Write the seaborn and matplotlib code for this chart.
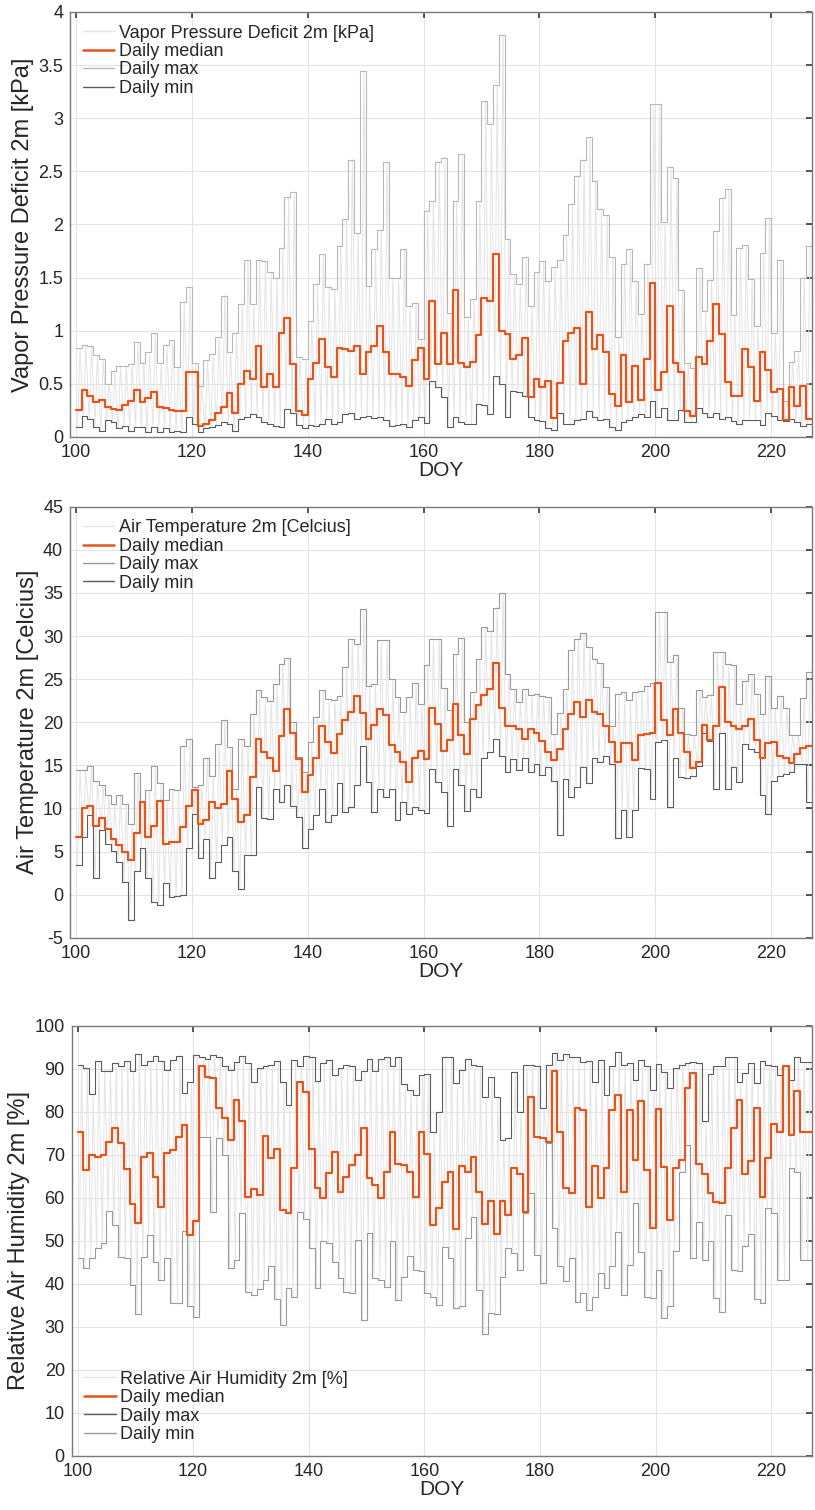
import numpy as np
import pandas as pd
import matplotlib
matplotlib.use("Agg")
import matplotlib.pyplot as plt
import seaborn as sns
from matplotlib.ticker import FuncFormatter
from matplotlib.lines import Line2D

# Day of year for each daily value (stairs hold until the next day)
doy = np.arange(100, 227)

# Vapor pressure deficit 2m [kPa]
vpd_med = [0.25, 0.44, 0.39, 0.33, 0.35, 0.28, 0.26, 0.25, 0.30, 0.34,
           0.44, 0.33, 0.37, 0.42, 0.28, 0.27, 0.25, 0.24, 0.24, 0.61,
           0.61, 0.10, 0.12, 0.16, 0.23, 0.28, 0.41, 0.23, 0.50, 0.62,
           0.55, 0.86, 0.47, 0.59, 0.47, 0.98, 1.12, 0.69, 0.24, 0.21,
           0.55, 0.70, 0.92, 0.66, 0.56, 0.84, 0.83, 0.81, 0.86, 0.59,
           0.80, 0.86, 1.04, 0.80, 0.59, 0.59, 0.56, 0.48, 0.72, 0.84,
           0.55, 1.28, 0.69, 0.98, 0.69, 1.38, 0.70, 0.66, 0.71, 0.96,
           1.31, 1.28, 1.72, 1.00, 0.97, 0.73, 0.77, 0.93, 0.38, 0.55,
           0.47, 0.53, 0.18, 0.51, 0.90, 0.98, 1.03, 0.50, 1.18, 0.83,
           0.96, 0.80, 0.40, 0.29, 0.77, 0.33, 0.67, 0.35, 0.73, 1.45,
           0.44, 0.61, 1.23, 0.70, 0.61, 0.24, 0.20, 0.75, 0.69, 0.90,
           1.25, 0.97, 0.52, 0.39, 0.39, 0.83, 0.66, 0.34, 0.80, 0.63,
           0.42, 0.45, 0.16, 0.47, 0.29, 0.48, 0.17]
vpd_max = [0.84, 0.87, 0.86, 0.77, 0.73, 0.50, 0.62, 0.67, 0.67, 0.69,
           0.89, 0.70, 0.80, 0.98, 0.70, 0.87, 0.91, 0.66, 1.27, 1.41,
           0.70, 0.48, 0.72, 0.78, 0.94, 1.33, 0.80, 0.98, 1.25, 1.67,
           1.25, 1.67, 1.66, 1.55, 1.50, 1.78, 2.26, 2.31, 0.75, 0.73,
           1.09, 1.44, 1.72, 1.41, 1.39, 1.80, 2.05, 2.61, 1.92, 3.44,
           1.42, 1.77, 1.95, 2.59, 1.50, 1.50, 1.77, 1.23, 1.26, 0.92,
           2.13, 2.22, 2.59, 2.63, 1.17, 2.22, 2.66, 1.13, 1.30, 2.22,
           3.16, 2.95, 3.31, 3.78, 1.86, 1.53, 1.44, 1.69, 1.23, 1.55,
           1.66, 1.47, 1.60, 1.67, 1.90, 2.19, 2.46, 2.61, 2.82, 2.41,
           2.15, 2.09, 1.69, 0.94, 1.63, 1.77, 1.47, 1.16, 1.63, 3.13,
           3.13, 2.02, 2.54, 2.44, 1.38, 0.70, 0.65, 1.59, 1.19, 1.48,
           1.94, 2.25, 2.33, 1.15, 1.78, 1.81, 1.49, 1.04, 1.73, 2.06,
           0.98, 1.67, 0.34, 0.71, 0.81, 1.50, 1.80]
vpd_min = [0.09, 0.20, 0.17, 0.09, 0.06, 0.16, 0.14, 0.08, 0.10, 0.06,
           0.09, 0.09, 0.05, 0.09, 0.05, 0.08, 0.05, 0.06, 0.05, 0.19,
           0.12, 0.05, 0.08, 0.09, 0.11, 0.14, 0.12, 0.06, 0.17, 0.19,
           0.22, 0.19, 0.14, 0.12, 0.10, 0.09, 0.26, 0.23, 0.11, 0.08,
           0.11, 0.10, 0.12, 0.17, 0.12, 0.14, 0.22, 0.23, 0.17, 0.19,
           0.20, 0.18, 0.19, 0.16, 0.10, 0.11, 0.12, 0.09, 0.16, 0.19,
           0.13, 0.53, 0.47, 0.38, 0.09, 0.19, 0.14, 0.12, 0.12, 0.31,
           0.30, 0.22, 0.57, 0.50, 0.19, 0.43, 0.42, 0.39, 0.19, 0.16,
           0.15, 0.08, 0.07, 0.23, 0.12, 0.12, 0.16, 0.17, 0.24, 0.19,
           0.16, 0.17, 0.09, 0.07, 0.14, 0.16, 0.19, 0.22, 0.19, 0.34,
           0.19, 0.27, 0.16, 0.16, 0.25, 0.14, 0.14, 0.27, 0.23, 0.19,
           0.23, 0.17, 0.19, 0.15, 0.12, 0.16, 0.16, 0.16, 0.11, 0.23,
           0.20, 0.16, 0.15, 0.17, 0.14, 0.10, 0.12]

# Air temperature 2m [Celcius]
ta_med = [6.7, 10.0, 10.3, 8.0, 8.9, 7.6, 6.5, 5.8, 5.0, 4.0,
          7.1, 10.7, 6.7, 8.0, 10.9, 5.9, 6.1, 6.1, 7.9, 10.3,
          12.1, 8.2, 8.6, 10.7, 10.0, 10.5, 14.3, 11.1, 8.4, 9.2,
          13.6, 18.1, 16.5, 15.8, 14.3, 18.4, 21.5, 18.8, 15.7, 11.9,
          13.9, 15.9, 19.6, 17.7, 16.4, 18.6, 20.3, 21.2, 23.1, 21.1,
          18.1, 19.7, 21.5, 20.8, 17.4, 16.6, 15.4, 13.1, 15.8, 16.7,
          15.7, 21.7, 19.8, 16.7, 17.9, 22.1, 18.5, 16.3, 20.4, 22.0,
          23.2, 23.9, 26.9, 21.7, 19.6, 19.6, 19.2, 18.1, 19.2, 18.8,
          17.8, 16.6, 15.6, 16.9, 19.2, 21.0, 22.3, 20.6, 22.6, 21.2,
          21.0, 19.6, 17.7, 15.4, 17.6, 17.6, 15.6, 18.5, 18.6, 18.8,
          24.6, 20.3, 18.5, 21.5, 18.8, 16.5, 14.7, 15.4, 19.7, 17.9,
          19.6, 24.1, 20.0, 19.6, 19.2, 19.6, 20.4, 17.9, 15.8, 17.6,
          17.7, 16.1, 15.9, 15.3, 16.3, 17.0, 17.2]
ta_max = [14.5, 14.5, 14.9, 13.2, 12.7, 11.5, 10.5, 11.6, 10.5, 8.2,
          14.1, 10.7, 12.1, 14.9, 13.0, 11.0, 12.2, 12.1, 17.2, 18.0,
          12.5, 12.7, 15.9, 13.8, 17.5, 20.3, 17.1, 12.2, 18.0, 17.3,
          21.0, 23.7, 22.9, 22.5, 24.4, 26.8, 27.4, 20.0, 16.0, 14.2,
          17.7, 20.6, 23.7, 22.7, 22.6, 23.1, 26.4, 29.6, 29.1, 33.1,
          24.2, 24.4, 29.5, 29.5, 25.0, 22.9, 21.2, 22.9, 24.6, 22.1,
          26.6, 29.7, 29.7, 24.0, 21.4, 27.9, 29.8, 20.0, 23.5, 27.3,
          31.1, 30.6, 33.3, 35.0, 25.6, 23.8, 22.3, 23.9, 23.2, 23.3,
          23.1, 22.9, 18.6, 21.1, 23.9, 28.4, 29.7, 30.3, 28.7, 27.3,
          26.9, 24.1, 19.6, 23.3, 23.5, 22.6, 23.5, 23.6, 24.2, 24.6,
          32.8, 32.8, 27.0, 27.8, 21.7, 18.6, 18.5, 23.7, 22.9, 23.2,
          28.1, 28.1, 26.8, 26.6, 22.1, 24.8, 25.6, 23.3, 21.0, 25.4,
          21.7, 23.0, 21.7, 18.5, 18.5, 22.8, 25.8]
ta_min = [3.4, 6.7, 9.2, 1.9, 7.5, 5.9, 5.1, 3.8, 1.5, -3.0,
          2.7, 5.4, 1.9, -0.8, -1.2, 1.3, -0.3, -0.2, -0.1, 5.4,
          9.3, 4.2, 6.5, 1.9, 3.8, 5.7, 6.7, 2.7, 0.7, 4.6,
          4.6, 12.5, 8.9, 8.8, 12.3, 10.7, 12.7, 10.3, 9.0, 5.4,
          7.6, 9.2, 12.3, 8.4, 9.2, 12.9, 9.6, 10.2, 12.7, 17.2,
          13.1, 9.6, 12.3, 11.3, 12.3, 8.6, 10.7, 9.4, 10.2, 9.8,
          9.5, 14.6, 13.1, 11.9, 8.0, 14.6, 12.7, 9.7, 12.3, 11.3,
          15.8, 16.5, 18.1, 16.1, 14.2, 15.7, 14.4, 15.9, 14.2, 15.1,
          13.9, 14.8, 13.2, 6.9, 13.4, 11.3, 12.5, 14.8, 13.0, 15.8,
          15.4, 16.1, 15.2, 6.6, 9.8, 6.7, 9.8, 14.7, 14.6, 11.1,
          17.7, 17.9, 10.2, 15.8, 13.6, 13.5, 13.8, 14.9, 18.8, 17.8,
          12.3, 18.8, 12.2, 14.8, 13.1, 17.5, 16.9, 16.5, 11.5, 9.4,
          13.2, 13.8, 14.0, 14.2, 15.2, 15.1, 10.7]

# Relative air humidity 2m [%]
rh_med = [75.2, 66.4, 69.9, 69.5, 69.9, 73.0, 76.1, 72.6, 66.7, 58.4,
          54.0, 69.5, 70.3, 64.9, 57.9, 70.3, 71.1, 74.2, 76.9, 51.3,
          54.6, 90.5, 88.1, 87.8, 80.8, 78.4, 73.4, 82.7, 77.7, 60.2,
          62.0, 60.6, 74.4, 69.1, 71.3, 57.1, 56.4, 67.0, 86.8, 84.5,
          71.3, 62.2, 60.0, 65.7, 70.7, 61.4, 64.7, 67.6, 69.9, 76.1,
          64.5, 62.9, 59.8, 66.0, 75.3, 67.8, 67.6, 66.0, 60.2, 75.3,
          70.1, 53.6, 57.5, 63.6, 66.0, 52.7, 67.4, 66.0, 69.5, 61.4,
          53.8, 59.2, 51.5, 59.2, 56.0, 67.0, 65.4, 56.7, 83.3, 74.2,
          73.8, 73.0, 89.5, 75.3, 62.3, 61.0, 80.8, 80.4, 57.9, 67.4,
          59.8, 66.8, 80.4, 83.9, 61.4, 80.4, 68.8, 82.5, 66.4, 53.0,
          80.6, 67.2, 54.8, 66.8, 68.8, 85.6, 88.9, 67.8, 65.4, 61.0,
          58.9, 58.7, 66.8, 76.3, 82.7, 65.4, 68.4, 80.8, 60.2, 69.3,
          77.1, 75.3, 90.5, 74.6, 84.7, 75.2, 75.2]
rh_max = [90.9, 90.1, 84.0, 91.8, 89.5, 89.5, 91.2, 90.5, 91.8, 89.5,
          93.3, 90.9, 91.8, 93.0, 91.8, 89.7, 92.0, 93.0, 84.3, 86.8,
          93.2, 92.8, 92.2, 93.2, 92.8, 90.5, 89.7, 91.5, 92.9, 91.2,
          86.8, 90.2, 90.7, 90.9, 91.8, 86.8, 81.6, 92.0, 90.5, 93.0,
          92.8, 87.0, 91.2, 92.0, 88.5, 90.1, 90.9, 90.7, 87.4, 89.5,
          92.2, 89.5, 92.2, 92.8, 90.5, 92.8, 86.4, 85.0, 83.9, 88.5,
          88.7, 75.3, 80.0, 92.8, 92.8, 86.6, 89.7, 92.2, 90.9, 90.5,
          83.5, 88.1, 83.5, 73.4, 73.9, 89.3, 80.0, 90.9, 90.9, 90.5,
          80.9, 90.9, 93.6, 92.0, 93.3, 92.6, 92.6, 91.6, 91.8, 86.8,
          92.0, 83.9, 90.5, 93.8, 90.9, 91.2, 87.4, 92.0, 90.5, 85.0,
          91.0, 89.3, 85.4, 90.1, 90.9, 91.2, 91.5, 91.2, 77.7, 88.7,
          90.5, 90.5, 92.6, 92.7, 86.8, 88.9, 91.2, 86.6, 91.8, 90.9,
          90.7, 88.5, 90.7, 87.4, 92.8, 91.6, 91.6]
rh_min = [45.9, 43.6, 45.9, 48.2, 49.4, 56.9, 53.6, 46.3, 45.9, 39.7,
          32.9, 46.3, 51.3, 45.1, 40.9, 45.9, 35.4, 35.4, 52.2, 34.7,
          32.3, 74.0, 74.2, 56.6, 73.8, 70.0, 43.6, 45.5, 56.4, 38.1,
          37.4, 38.8, 40.9, 44.0, 36.4, 30.4, 38.9, 37.0, 56.7, 55.0,
          48.2, 38.9, 49.8, 49.4, 45.1, 41.2, 38.0, 37.8, 50.2, 31.6,
          51.7, 41.2, 40.9, 39.1, 49.9, 36.2, 41.6, 46.5, 43.2, 43.0,
          37.8, 37.0, 35.0, 48.6, 45.9, 34.3, 34.7, 50.5, 55.6, 38.5,
          28.4, 33.1, 32.9, 41.6, 48.2, 47.1, 43.2, 56.4, 61.0, 46.7,
          40.1, 72.6, 52.9, 44.0, 40.5, 45.9, 35.8, 37.8, 33.9, 37.0,
          42.4, 38.9, 44.0, 52.1, 37.4, 44.3, 58.7, 47.4, 37.0, 36.6,
          43.2, 32.1, 34.7, 47.6, 66.0, 72.2, 45.9, 54.4, 45.5, 49.9,
          36.6, 33.5, 56.0, 43.2, 43.0, 48.8, 51.5, 36.4, 35.4, 57.5,
          56.4, 40.9, 40.9, 66.8, 66.0, 45.5, 45.5]

ORANGE = '#e2561d'
RAW = '#e4e4e4'
LIGHT = '#b8b8b8'
MID = '#9a9a9a'
DARK = '#5c5c5c'

sns.set_theme(style="whitegrid")
plt.rcParams['font.family'] = ['Liberation Sans', 'DejaVu Sans']


def stairs(values):
    # hold each daily value until the start of the next day
    x = np.append(doy, doy[-1] + 1)
    y = np.append(values, values[-1])
    return pd.DataFrame({'DOY': x, 'value': y})


def raw_trace(lo, hi):
    # sub-daily trace swinging between the daily extremes
    x = np.column_stack([doy + 0.3, doy + 0.7]).ravel()
    y = np.column_stack([lo, hi]).ravel()
    return pd.DataFrame({'DOY': x, 'value': y})


def draw_panel(ax, med, vmax, vmin, raw_label, ylabel, ylim, yticks,
               max_color, min_color, legend_loc):
    sns.lineplot(data=raw_trace(vmin, vmax), x='DOY', y='value', ax=ax,
                 color=RAW, lw=0.7, sort=False, estimator=None)
    sns.lineplot(data=stairs(vmax), x='DOY', y='value', ax=ax,
                 color=max_color, lw=0.8, drawstyle='steps-post', estimator=None)
    sns.lineplot(data=stairs(vmin), x='DOY', y='value', ax=ax,
                 color=min_color, lw=0.8, drawstyle='steps-post', estimator=None)
    sns.lineplot(data=stairs(med), x='DOY', y='value', ax=ax,
                 color=ORANGE, lw=1.6, drawstyle='steps-post', estimator=None)

    ax.set_xlim(99, 227)
    ax.set_ylim(*ylim)
    ax.set_xticks(np.arange(100, 221, 20))
    ax.set_yticks(yticks)
    ax.yaxis.set_major_formatter(FuncFormatter(lambda v, p: f'{v:g}'))
    ax.set_xlabel('DOY', fontsize=15, labelpad=0)
    ax.set_ylabel(ylabel, fontsize=17, labelpad=3)
    ax.tick_params(axis='both', labelsize=13, direction='in', length=4,
                   top=True, right=True, color='#404040')
    ax.tick_params(axis='x', pad=5)
    ax.tick_params(axis='y', pad=5)
    ax.grid(True, color='#e4e4e4', lw=0.8)
    for s in ax.spines.values():
        s.set_color('#7a7a7a')
        s.set_linewidth(1.0)

    handles = [Line2D([], [], color=RAW, lw=1.0),
               Line2D([], [], color=ORANGE, lw=1.8),
               Line2D([], [], color=max_color, lw=1.0),
               Line2D([], [], color=min_color, lw=1.0)]
    labels = [raw_label, 'Daily median', 'Daily max', 'Daily min']
    ax.legend(handles, labels, loc=legend_loc, frameon=False, fontsize=13,
              handlelength=1.75, handletextpad=0.25, labelspacing=0.08,
              borderaxespad=0.3)


fig = plt.figure(figsize=(8.15, 15.10), dpi=100)
ax1 = fig.add_axes([0.086, 0.7106, 0.910, 0.2815])
ax2 = fig.add_axes([0.086, 0.3790, 0.910, 0.2854])
ax3 = fig.add_axes([0.088, 0.0360, 0.908, 0.2848])

draw_panel(ax1, vpd_med, vpd_max, vpd_min,
           'Vapor Pressure Deficit 2m [kPa]', 'Vapor Pressure Deficit 2m [kPa]',
           (0, 4), np.arange(0, 4.01, 0.5), LIGHT, DARK, 'upper left')
draw_panel(ax2, ta_med, ta_max, ta_min,
           'Air Temperature 2m [Celcius]', 'Air Temperature 2m [Celcius]',
           (-5, 45), np.arange(-5, 46, 5), MID, DARK, 'upper left')
draw_panel(ax3, rh_med, rh_max, rh_min,
           'Relative Air Humidity 2m [%]', 'Relative Air Humidity 2m [%]',
           (0, 100), np.arange(0, 101, 10), DARK, MID, 'lower left')

fig.savefig('out.png', dpi=100, facecolor='white')
